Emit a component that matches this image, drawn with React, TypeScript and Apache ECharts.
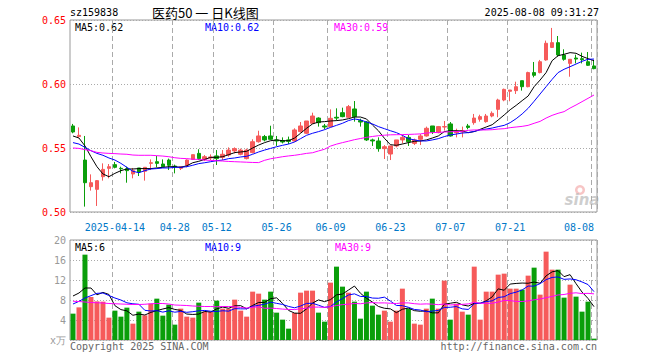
import React, { useEffect, useRef } from "react";
import * as echarts from "echarts";

const YEAR = "2025";
const dates = [
  "04-02","04-03","04-07","04-08","04-09","04-10","04-11","04-14","04-15","04-16","04-17","04-18","04-21","04-22","04-23","04-24","04-25","04-28","04-29","04-30",
  "05-06","05-07","05-08","05-09","05-12","05-13","05-14","05-15","05-16","05-19","05-20","05-21","05-22","05-23","05-26","05-27","05-28","05-29","05-30",
  "06-03","06-04","06-05","06-06","06-09","06-10","06-11","06-12","06-13","06-16","06-17","06-18","06-19","06-20","06-23","06-24","06-25","06-26","06-27","06-30",
  "07-01","07-02","07-03","07-04","07-07","07-08","07-09","07-10","07-11","07-14","07-15","07-16","07-17","07-18","07-21","07-22","07-23","07-24","07-25","07-28","07-29","07-30","07-31",
  "08-01","08-04","08-05","08-06","08-07","08-08",
];
const tickDays = ["04-14", "04-28", "05-12", "05-26", "06-09", "06-23", "07-07", "07-21", "08-08"];

const open = [
  0.5672,0.5589,0.5406,0.5198,0.5177,0.5276,0.5341,0.5370,0.5341,0.5338,
  0.5297,0.5344,0.5318,0.5380,0.5393,0.5375,0.5406,0.5359,0.5341,0.5365,
  0.5411,0.5458,0.5411,0.5422,0.5438,0.5427,0.5445,0.5477,0.5451,0.5417,
  0.5464,0.5549,0.5589,0.5594,0.5563,0.5557,0.5563,0.5555,0.5628,0.5615,
  0.5693,0.5734,0.5672,0.5667,0.5740,0.5776,0.5740,0.5805,0.5714,0.5703,
  0.5563,0.5555,0.5495,0.5453,0.5516,0.5563,0.5583,0.5536,0.5568,0.5594,
  0.5672,0.5620,0.5664,0.5688,0.5620,0.5625,0.5672,0.5698,0.5724,0.5706,
  0.5750,0.5802,0.5875,0.5943,0.5948,0.6026,0.5979,0.6089,0.6089,0.6188,
  0.6286,0.6323,0.6227,0.6161,0.6203,0.6198,0.6174,0.6141,
];
const close = [
  0.5625,0.5599,0.5229,0.5229,0.5245,0.5333,0.5354,0.5349,0.5338,0.5323,
  0.5323,0.5313,0.5349,0.5385,0.5380,0.5354,0.5365,0.5354,0.5354,0.5406,
  0.5448,0.5417,0.5432,0.5430,0.5417,0.5451,0.5484,0.5495,0.5484,0.5484,
  0.5549,0.5594,0.5563,0.5568,0.5555,0.5547,0.5552,0.5641,0.5672,0.5711,
  0.5750,0.5698,0.5664,0.5732,0.5734,0.5745,0.5823,0.5745,0.5703,0.5563,
  0.5555,0.5495,0.5510,0.5516,0.5563,0.5583,0.5549,0.5563,0.5594,0.5654,
  0.5625,0.5667,0.5667,0.5594,0.5630,0.5636,0.5661,0.5734,0.5745,0.5750,
  0.5771,0.5875,0.5958,0.5953,0.5979,0.5979,0.6089,0.6068,0.6174,0.6318,
  0.6323,0.6227,0.6193,0.6193,0.6195,0.6190,0.6146,0.6120,
];
const low = [
  0.5615,0.5583,0.5042,0.5167,0.5047,0.5245,0.5263,0.5341,0.5302,0.5229,
  0.5263,0.5281,0.5245,0.5328,0.5349,0.5349,0.5328,0.5302,0.5328,0.5349,
  0.5406,0.5406,0.5398,0.5406,0.5367,0.5406,0.5432,0.5458,0.5443,0.5411,
  0.5458,0.5542,0.5552,0.5563,0.5516,0.5536,0.5531,0.5549,0.5620,0.5609,
  0.5688,0.5667,0.5646,0.5662,0.5714,0.5740,0.5734,0.5706,0.5667,0.5555,
  0.5516,0.5471,0.5414,0.5406,0.5505,0.5536,0.5516,0.5523,0.5523,0.5589,
  0.5609,0.5615,0.5636,0.5589,0.5583,0.5583,0.5646,0.5682,0.5706,0.5698,
  0.5740,0.5740,0.5865,0.5865,0.5922,0.5948,0.5974,0.6052,0.6083,0.6182,
  0.6281,0.6214,0.6182,0.6057,0.6161,0.6161,0.6141,0.6115,
];
const high = [
  0.5688,0.5661,0.5594,0.5294,0.5250,0.5380,0.5375,0.5391,0.5354,0.5354,
  0.5344,0.5344,0.5349,0.5411,0.5438,0.5411,0.5417,0.5370,0.5359,0.5411,
  0.5448,0.5490,0.5445,0.5450,0.5484,0.5484,0.5505,0.5505,0.5495,0.5495,
  0.5568,0.5635,0.5602,0.5674,0.5594,0.5583,0.5589,0.5654,0.5703,0.5711,
  0.5776,0.5740,0.5688,0.5802,0.5810,0.5815,0.5836,0.5867,0.5729,0.5711,
  0.5573,0.5583,0.5523,0.5516,0.5563,0.5602,0.5602,0.5573,0.5609,0.5667,
  0.5672,0.5672,0.5711,0.5703,0.5651,0.5667,0.5688,0.5766,0.5760,0.5766,
  0.5786,0.5885,0.5964,0.5953,0.6018,0.6026,0.6096,0.6172,0.6188,0.6339,
  0.6438,0.6375,0.6271,0.6193,0.6229,0.6245,0.6250,0.6188,
];
const ma5 = [
  0.5594,0.5578,0.5516,0.5432,0.5354,0.5297,0.5276,0.5302,0.5323,0.5336,
  0.5336,0.5339,0.5339,0.5339,0.5344,0.5349,0.5354,0.5354,0.5349,0.5361,
  0.5385,0.5396,0.5411,0.5427,0.5427,0.5432,0.5448,0.5464,0.5469,0.5474,
  0.5500,0.5523,0.5542,0.5557,0.5563,0.5557,0.5557,0.5578,0.5615,0.5654,
  0.5688,0.5703,0.5706,0.5711,0.5714,0.5719,0.5729,0.5742,0.5742,0.5727,
  0.5680,0.5635,0.5576,0.5526,0.5521,0.5531,0.5542,0.5552,0.5555,0.5563,
  0.5578,0.5594,0.5628,0.5635,0.5635,0.5633,0.5620,0.5628,0.5646,0.5664,
  0.5682,0.5719,0.5758,0.5799,0.5833,0.5870,0.5906,0.5979,0.6031,0.6089,
  0.6182,0.6221,0.6232,0.6245,0.6240,0.6216,0.6198,0.6182,
];
const ma10 = [
  0.5542,0.5531,0.5505,0.5479,0.5458,0.5443,0.5422,0.5406,0.5380,0.5349,
  0.5318,0.5307,0.5323,0.5336,0.5339,0.5344,0.5344,0.5349,0.5349,0.5354,
  0.5365,0.5378,0.5385,0.5393,0.5401,0.5406,0.5417,0.5422,0.5430,0.5435,
  0.5451,0.5469,0.5484,0.5497,0.5510,0.5521,0.5531,0.5547,0.5573,0.5599,
  0.5615,0.5628,0.5643,0.5661,0.5677,0.5693,0.5714,0.5727,0.5719,0.5703,
  0.5688,0.5667,0.5651,0.5635,0.5620,0.5599,0.5573,0.5563,0.5555,0.5555,
  0.5563,0.5573,0.5589,0.5602,0.5609,0.5617,0.5620,0.5630,0.5641,0.5648,
  0.5656,0.5667,0.5677,0.5698,0.5729,0.5766,0.5810,0.5865,0.5922,0.5979,
  0.6036,0.6089,0.6115,0.6135,0.6156,0.6177,0.6193,0.6195,
];
const ma30 = [
  0.5500,0.5497,0.5487,0.5479,0.5466,0.5461,0.5458,0.5456,0.5453,0.5451,
  0.5445,0.5443,0.5443,0.5443,0.5440,0.5437,0.5432,0.5424,0.5419,0.5417,
  0.5412,0.5411,0.5406,0.5403,0.5400,0.5398,0.5395,0.5393,0.5391,0.5389,
  0.5387,0.5386,0.5404,0.5416,0.5424,0.5432,0.5438,0.5443,0.5450,0.5458,
  0.5463,0.5477,0.5490,0.5515,0.5530,0.5542,0.5553,0.5565,0.5574,0.5583,
  0.5590,0.5596,0.5600,0.5603,0.5604,0.5605,0.5606,0.5608,0.5610,0.5617,
  0.5620,0.5622,0.5625,0.5627,0.5628,0.5630,0.5638,0.5641,0.5641,0.5641,
  0.5643,0.5648,0.5651,0.5659,0.5664,0.5669,0.5677,0.5693,0.5708,0.5734,
  0.5755,0.5771,0.5784,0.5812,0.5836,0.5862,0.5888,0.5914,
];
const vol = [
  5.27,6.53,17.07,8.6,7.73,7.67,4.47,5.87,4.67,6.47,
  3.27,5.67,4.93,7.27,8.27,4.87,7.07,3.07,6.27,4.67,
  4.47,7.47,5.67,5.67,7.87,6.27,6.27,8.07,5.87,4.67,
  9.67,9.27,8.07,9.67,5.47,4.07,2.27,5.4,9.47,9.87,
  9.87,5.47,3.67,11.47,14.67,10.67,9.47,7.67,4.27,9.67,
  6.87,5.07,5.87,3.67,5.87,10.27,6.27,3.27,3.07,6.27,
  8.27,6.27,11.87,4.07,7.27,5.67,5.07,14.67,4.07,9.67,
  9.67,13.07,13.27,10.27,10.27,10.07,12.87,14.47,9.07,17.67,
  14.07,14.07,8.47,11.07,8.67,5.67,7.67,0.27,
];
const volMa5 = [
  8.8,9.4,10.4,10.4,9.04,9.52,9.11,6.87,6.08,5.83,
  4.95,5.19,5.0,5.52,5.88,6.2,6.48,6.11,5.91,5.19,
  5.11,5.19,5.71,5.59,6.23,6.59,6.35,6.83,6.87,6.23,
  6.91,7.51,7.51,8.27,8.43,7.31,5.91,5.38,5.34,6.22,
  7.38,8.02,7.67,8.07,9.03,9.19,9.99,10.79,9.35,8.35,
  7.59,6.71,6.35,6.23,5.47,6.15,6.39,5.87,5.75,5.83,
  5.43,5.43,7.15,7.35,7.55,7.03,6.79,7.35,7.35,7.83,
  8.63,10.23,9.95,11.19,11.31,11.39,11.35,11.59,11.35,12.83,
  13.63,13.87,12.67,13.07,11.27,9.59,8.31,6.67,
];
const volMa10 = [
  7.2,7.73,8.4,8.87,9.33,9.4,8.9,8.4,8.0,7.44,
  7.24,7.15,5.94,5.8,5.86,5.58,5.84,5.56,5.72,5.54,
  5.66,5.84,5.91,5.75,5.71,5.85,5.77,6.27,6.23,6.23,
  6.75,6.93,7.17,7.57,7.33,7.11,6.71,6.44,6.8,7.32,
  7.34,6.96,6.52,6.7,7.62,8.28,9.0,9.23,8.71,8.69,
  8.39,8.35,8.57,7.79,6.91,6.87,6.55,6.11,5.99,5.65,
  5.79,5.91,6.51,6.55,6.69,6.23,6.11,7.25,7.35,7.69,
  7.83,8.51,8.65,9.27,9.57,10.01,10.79,10.77,11.27,12.07,
  12.51,12.61,12.13,12.21,12.05,11.61,11.09,9.67,
];
const volMa30 = [
  7.75,7.7,7.6,7.5,7.45,7.4,7.3,7.25,7.2,7.15,
  7.1,7.1,7.15,7.25,7.3,7.3,7.2,7.0,6.95,6.9,
  6.8,6.75,6.7,6.7,6.65,6.7,6.7,6.65,6.5,6.4,
  6.55,6.64,6.34,6.37,6.3,6.18,6.11,6.09,6.25,6.36,
  6.58,6.58,6.53,6.67,6.89,7.08,7.16,7.31,7.25,7.41,
  7.49,7.41,7.42,7.35,7.29,7.42,7.42,7.26,7.17,7.22,
  7.17,7.07,7.2,7.01,7.07,7.13,7.22,7.53,7.35,7.34,
  7.34,7.59,7.91,7.87,7.72,7.7,7.82,8.04,8.2,8.47,
  8.71,9.01,9.1,9.34,9.44,9.28,9.33,9.23,
];

const RED = "#f65a5a";
const GREEN = "#0a9e0a";
const MONO = "DejaVu Sans Mono";
const GRID_LINE = "#aaaaaa";

const isTick = (_i: number, v: string) => tickDays.indexOf(v) >= 0;

function buildOption() {
  const n = dates.length;
  const last = n - 1;
  const candles = dates.map((_, i) => [open[i], close[i], low[i], high[i]]);
  const volData = vol.map((v, i) => ({
    value: v,
    itemStyle: { color: close[i] >= open[i] ? RED : GREEN },
  }));
  const xCommon = {
    type: "category",
    data: dates,
    boundaryGap: true,
    axisLine: { show: false },
    axisTick: { show: false },
    splitLine: {
      show: true,
      interval: isTick,
      lineStyle: { type: [5, 3], color: GRID_LINE, width: 1 },
    },
  };
  const lineS = (name: string, data: number[], color: string, xi: number, yi: number) => ({
    name,
    type: "line",
    xAxisIndex: xi,
    yAxisIndex: yi,
    data,
    symbol: "none",
    showSymbol: false,
    silent: true,
    lineStyle: { width: 1, color },
    itemStyle: { color },
    z: 3,
  });
  const txt = (x: number, y: number, text: string, fill: string, extra: any = {}) => ({
    type: "text",
    x,
    y,
    silent: true,
    style: {
      text,
      fill,
      font: `10px "${MONO}"`,
      textVerticalAlign: "middle",
      verticalAlign: "middle",
      ...extra,
    },
  });
  return {
    animation: false,
    backgroundColor: "#ffffff",
    textStyle: { fontFamily: MONO },
    grid: [
      { left: 70, top: 20, width: 527, height: 192, show: true, borderColor: "#999999", borderWidth: 1 },
      { left: 70, top: 240, width: 527, height: 100, show: true, borderColor: "#999999", borderWidth: 1 },
    ],
    xAxis: [
      {
        ...xCommon,
        gridIndex: 0,
        axisLabel: {
          show: true,
          interval: isTick,
          color: "#0078c8",
          fontSize: 10,
          fontFamily: MONO,
          margin: 10,
          alignMaxLabel: "right",
          formatter: (v: string) => (v === tickDays[0] ? `${YEAR}-${v}` : v),
        },
      },
      { ...xCommon, gridIndex: 1, axisLabel: { show: false } },
    ],
    yAxis: [
      {
        type: "value",
        gridIndex: 0,
        min: 0.5,
        max: 0.65,
        interval: 0.05,
        axisLine: { show: false },
        axisTick: { show: false },
        axisLabel: {
          color: "#ff0000",
          fontSize: 10,
          fontFamily: MONO,
          margin: 4,
          formatter: (v: number) => v.toFixed(2),
        },
        splitLine: { show: true, lineStyle: { type: [1, 2], color: GRID_LINE } },
      },
      {
        type: "value",
        gridIndex: 1,
        min: 0,
        max: 20,
        interval: 4,
        axisLine: { show: false },
        axisTick: { show: false },
        axisLabel: {
          color: "#999999",
          fontSize: 10,
          fontFamily: MONO,
          margin: 4,
          formatter: (v: number) => (v === 0 ? "x万" : String(v)),
        },
        splitLine: { show: true, lineStyle: { type: [1, 2], color: GRID_LINE } },
      },
    ],
    series: [
      {
        name: "K",
        type: "candlestick",
        xAxisIndex: 0,
        yAxisIndex: 0,
        data: candles,
        barWidth: 4,
        silent: true,
        itemStyle: { color: RED, color0: GREEN, borderColor: RED, borderColor0: GREEN, borderWidth: 1 },
        z: 2,
      },
      lineS("MA5", ma5, "#000000", 0, 0),
      lineS("MA10", ma10, "#0000ff", 0, 0),
      lineS("MA30", ma30, "#ff00ff", 0, 0),
      {
        name: "VOL",
        type: "bar",
        xAxisIndex: 1,
        yAxisIndex: 1,
        data: volData,
        barWidth: 5,
        silent: true,
        z: 2,
      },
      lineS("VMA5", volMa5, "#000000", 1, 1),
      lineS("VMA10", volMa10, "#0000ff", 1, 1),
      lineS("VMA30", volMa30, "#ff00ff", 1, 1),
    ],
    graphic: [
      txt(70, 12, "sz159838", "#000000"),
      {
        type: "text",
        x: 152,
        y: 12,
        silent: true,
        style: {
          text: "医药50 一 日K线图",
          fill: "#000000",
          font: '13px "Noto Sans CJK SC"',
          verticalAlign: "middle",
        },
      },
      txt(599, 12, "2025-08-08 09:31:27", "#000000", { align: "right" }),
      txt(75, 27, `MA5:${ma5[last].toFixed(2)}`, "#000000"),
      txt(205, 27, `MA10:${ma10[last].toFixed(2)}`, "#0000ff"),
      txt(334, 27, `MA30:${ma30[last].toFixed(2)}`, "#ff00ff"),
      txt(75, 247, `MA5:${Math.floor(volMa5[last])}`, "#000000"),
      txt(205, 247, `MA10:${Math.floor(volMa10[last])}`, "#0000ff"),
      txt(335, 247, `MA30:${Math.floor(volMa30[last])}`, "#ff00ff"),
      txt(70, 346, "Copyright 2025 SINA.COM", "#666666"),
      txt(597, 346, "http://finance.sina.com.cn", "#666666", { align: "right" }),
      {
        type: "ring",
        silent: true,
        shape: { cx: 580, cy: 190, r: 5, r0: 2.5 },
        style: { fill: "rgba(240,150,150,0.55)" },
      },
      {
        type: "text",
        x: 582,
        y: 200,
        silent: true,
        style: {
          text: "sina",
          fill: "rgba(190,190,190,0.75)",
          font: 'italic bold 15px "DejaVu Sans"',
          align: "center",
          verticalAlign: "middle",
        },
      },
    ],
  };
}

export default function App() {
  const ref = useRef<HTMLDivElement>(null);
  useEffect(() => {
    document.body.style.margin = "0";
    if (!ref.current) return;
    const chart = echarts.init(ref.current, null, { renderer: "svg" });
    chart.setOption(buildOption() as any);
    return () => chart.dispose();
  }, []);
  return <div ref={ref} style={{ width: 660, height: 360 }} />;
}
